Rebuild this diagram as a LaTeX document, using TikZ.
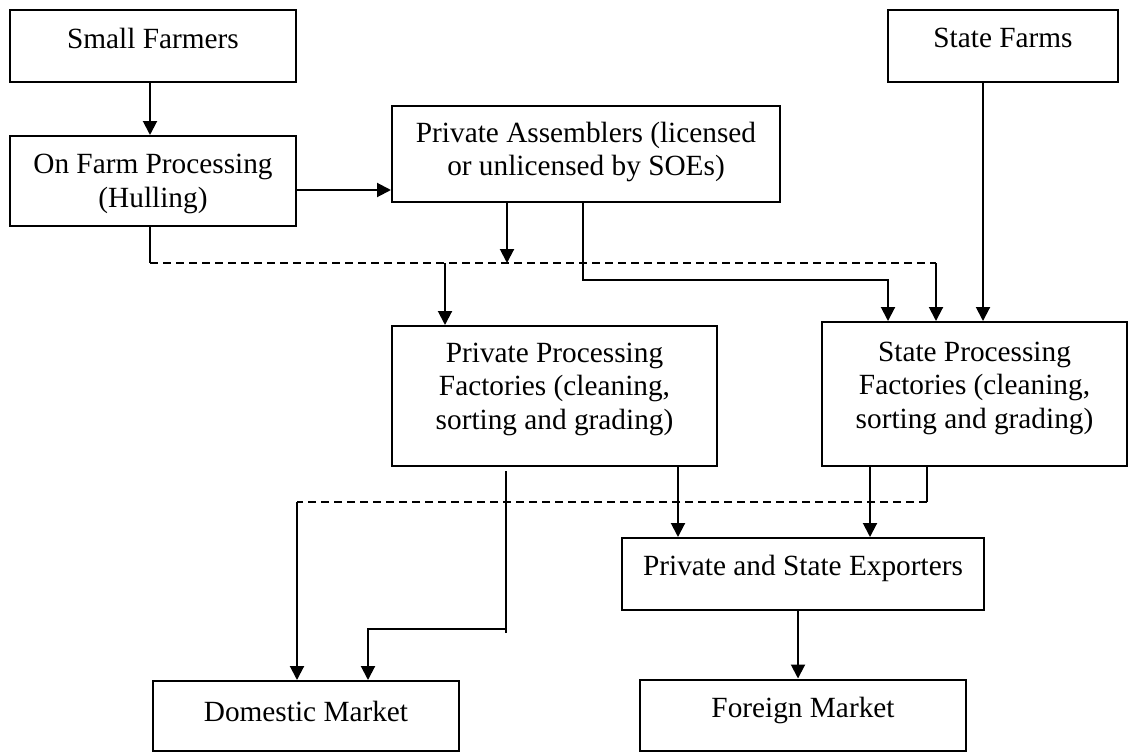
\documentclass[tikz,border=0pt]{standalone}
\usepackage{fontspec}
\setmainfont{Liberation Serif}
\usetikzlibrary{arrows.meta}
\begin{document}
\begin{tikzpicture}[x=1pt,y=-1pt,
  box/.style={draw=black,line width=2pt,rectangle,inner sep=0pt},
  txt/.style={inner sep=0pt,align=center,font=\fontsize{29.3}{33.5}\selectfont},
  stxt/.style={inner sep=0pt,font=\fontsize{29.3}{33.5}\selectfont},
  conn/.style={line width=2pt},
  arr/.style={line width=2pt,-{Triangle[length=14pt,width=14pt]}},
  dsh/.style={line width=2pt,dash pattern=on 8pt off 5pt}]
\useasboundingbox (0,0) rectangle (1147,752);
% boxes
\node[box,minimum width=286pt,minimum height=72pt] (sf) at (153,46) {};
\node[stxt] (sft) at (153,38) {Small Farmers};
\node[box,minimum width=230pt,minimum height=72pt] (stf) at (1003,46) {};
\node[stxt] (stft) at (1003,38) {State Farms};
\node[box,minimum width=286pt,minimum height=90pt] (ofp) at (153,181) {};
\node[txt] (ofpt) at (153,184) {On Farm Processing\\(Hulling)};
\node[box,minimum width=388pt,minimum height=96pt] (pa) at (586,154) {};
\node[txt] (pat) at (586,152) {Private Assemblers (licensed\\or unlicensed by SOEs)};
\node[box,minimum width=325pt,minimum height=140pt] (pp) at (554.5,396) {};
\node[txt] (ppt) at (554.5,389) {Private Processing\\Factories (cleaning,\\sorting and grading)};
\node[box,minimum width=305pt,minimum height=144pt] (sp) at (974.5,394) {};
\node[txt] (spt) at (974.5,388) {State Processing\\Factories (cleaning,\\sorting and grading)};
\node[box,minimum width=362pt,minimum height=72pt] (ex) at (803,574) {};
\node[stxt] (ext) at (803,568) {Private and State Exporters};
\node[box,minimum width=306pt,minimum height=70pt] (dm) at (306,716) {};
\node[stxt] (dmt) at (306,711) {Domestic Market};
\node[box,minimum width=326pt,minimum height=71pt] (fm) at (803,715) {};
\node[stxt] (fmt) at (803,710) {Foreign Market};
% helper coordinates
\coordinate (x150) at (150,0);
\coordinate (x445) at (445,0);
\coordinate (x506) at (506,0);
\coordinate (x507) at (507,0);
\coordinate (x583) at (583,0);
\coordinate (x678) at (678,0);
\coordinate (x798) at (798,0);
\coordinate (x870) at (870,0);
\coordinate (x888) at (888,0);
\coordinate (x927) at (927,0);
\coordinate (x936) at (936,0);
\coordinate (x983) at (983,0);
\coordinate (y190) at (0,190);
\coordinate (j1) at (150,263);
\coordinate (j2) at (936,263);
\coordinate (ja) at (507,263);
\coordinate (jb) at (445,263);
\coordinate (k1) at (583,280);
\coordinate (k2) at (888,280);
\coordinate (m1) at (927,502);
\coordinate (m2) at (297,502);
\coordinate (n1) at (506,629);
\coordinate (n1t) at (506,633);
\coordinate (n2) at (368,629);
% connectors
\draw[arr] (sf.south -| x150) -- (ofp.north -| x150);
\draw[arr] (ofp.east |- y190) -- (pa.west |- y190);
\draw[conn] (ofp.south -| x150) -- (j1);
\draw[dsh] (j1) -- (j2);
\draw[arr] (j2) -- (sp.north -| x936);
\draw[arr] (pa.south -| x507) -- (ja);
\draw[arr] (jb) -- (pp.north -| x445);
\draw[arr] (pa.south -| x583) -- (k1) -- (k2) -- (sp.north -| x888);
\draw[arr] (stf.south -| x983) -- (sp.north -| x983);
\draw[arr] (pp.south -| x678) -- (ex.north -| x678);
\draw[arr] (sp.south -| x870) -- (ex.north -| x870);
\draw[conn] (sp.south -| x927) -- (m1);
\draw[dsh] (m1) -- (m2);
\draw[arr] (m2) -- (dm.north -| m2);
\draw[conn] ([yshift=-4pt]pp.south -| x506) -- (n1t);
\draw[arr] (n1) -- (n2) -- (dm.north -| n2);
\draw[arr] (ex.south -| x798) -- (fm.north -| x798);
\end{tikzpicture}
\end{document}
